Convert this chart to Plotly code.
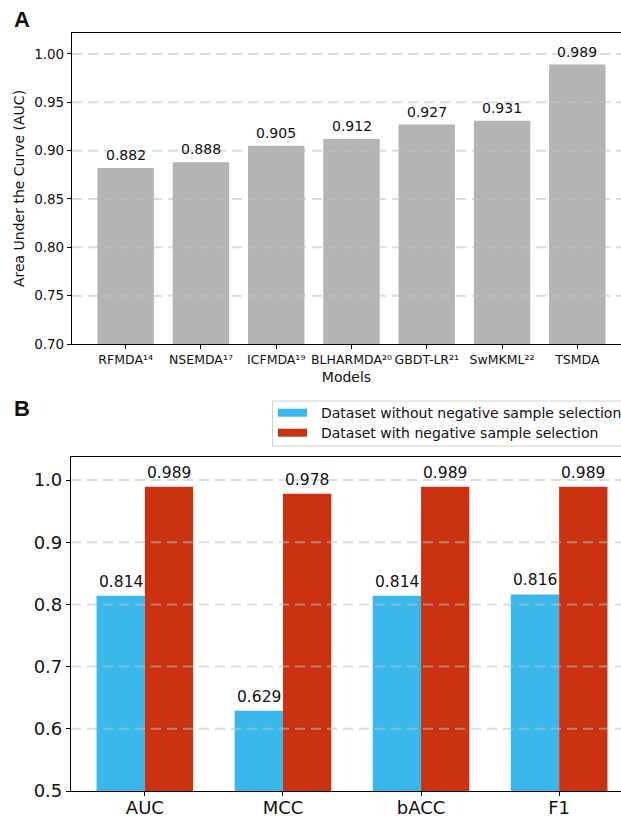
import plotly.graph_objects as go

# ---- data ----
models = ["RFMDA¹⁴", "NSEMDA¹⁷", "ICFMDA¹⁹", "BLHARMDA²⁰", "GBDT-LR²¹", "SwMKML²²", "TSMDA"]
auc_values = [0.882, 0.888, 0.905, 0.912, 0.927, 0.931, 0.989]
a_yticks = [0.70, 0.75, 0.80, 0.85, 0.90, 0.95, 1.00]

metrics = ["AUC", "MCC", "bACC", "F1"]
without_selection = [0.814, 0.629, 0.814, 0.816]
with_selection = [0.989, 0.978, 0.989, 0.989]
series_names = ["Dataset without negative sample selection", "Dataset with negative sample selection"]
b_yticks = [0.5, 0.6, 0.7, 0.8, 0.9, 1.0]

# ---- style ----
W, H = 621, 817
FONT = "DejaVu Sans"
GREY = "#b4b4b4"
BLUE = "#3ab8ec"
RED = "#cb3211"
GRID = "rgba(178,196,200,0.55)"

A_BAR_W = 0.75
B_BAR_W = 0.35


def px_x(p):
    return p / W


def px_y(p):
    return 1 - p / H


def mpl_range(n, span, full_px, shown_px):
    # matplotlib-style 5% margins around the bars; the right part is cut off
    lo = -span / 2 - 0.05 * (n - 1 + span)
    hi = (n - 1) + span / 2 + 0.05 * (n - 1 + span)
    return [lo, lo + (hi - lo) * shown_px / full_px]


fig = go.Figure()

# panel A
fig.add_trace(go.Bar(
    x=list(range(len(models))), y=auc_values, width=A_BAR_W,
    marker=dict(color=GREY, line=dict(width=0)),
    xaxis="x", yaxis="y", showlegend=False,
))

# panel B
xs = list(range(len(metrics)))
series_colors = [BLUE, RED]
for k, (vals, off) in enumerate([(without_selection, -B_BAR_W), (with_selection, 0)]):
    fig.add_trace(go.Bar(
        x=xs, y=vals, width=B_BAR_W, offset=off,
        marker=dict(color=series_colors[k], line=dict(width=0)), name=series_names[k],
        xaxis="x2", yaxis="y2", showlegend=False,
    ))

annotations = []
for i, v in enumerate(auc_values):
    annotations.append(dict(x=i, y=v, xref="x", yref="y", text=f"{v:.3f}", showarrow=False,
                            yanchor="bottom", yshift=3, font=dict(family=FONT, size=14, color="#111")))
for i, v in enumerate(without_selection):
    annotations.append(dict(x=i - B_BAR_W / 2, y=v, xref="x2", yref="y2", text=f"{v:.3f}", showarrow=False,
                            yanchor="bottom", yshift=3, font=dict(family=FONT, size=15.5, color="#111")))
for i, v in enumerate(with_selection):
    annotations.append(dict(x=i + B_BAR_W / 2, y=v, xref="x2", yref="y2", text=f"{v:.3f}", showarrow=False,
                            yanchor="bottom", yshift=3, font=dict(family=FONT, size=15.5, color="#111")))

# panel letters
annotations.append(dict(x=px_x(12), y=px_y(20), xref="paper", yref="paper", text="<b>A</b>", showarrow=False,
                        xanchor="left", yanchor="middle", font=dict(family="Liberation Sans", size=22, color="#111")))
annotations.append(dict(x=px_x(12), y=px_y(408), xref="paper", yref="paper", text="<b>B</b>", showarrow=False,
                        xanchor="left", yanchor="middle", font=dict(family="Liberation Sans", size=22, color="#111")))

shapes = []

# legend box for panel B (runs off the right edge)
shapes.append(dict(type="rect", xref="paper", yref="paper", x0=px_x(272.5), x1=px_x(640),
                   y0=px_y(446), y1=px_y(401), layer="above",
                   line=dict(color="#d0d0d0", width=1), fillcolor="white"))
row_centers = [412.7, 432.7]
for k, name in enumerate(series_names):
    yc = row_centers[k]
    shapes.append(dict(type="rect", xref="paper", yref="paper", x0=px_x(278), x1=px_x(307),
                       y0=px_y(yc + 4), y1=px_y(yc - 4), layer="above",
                       line=dict(width=0), fillcolor=series_colors[k]))
    annotations.append(dict(x=px_x(319), y=px_y(yc), xref="paper", yref="paper", text=name,
                            showarrow=False, xanchor="left", yanchor="middle",
                            font=dict(family=FONT, size=14, color="#111")))

# dashed horizontal grid drawn over the bars
for t in a_yticks[1:]:
    shapes.append(dict(type="line", xref="x domain", yref="y", x0=0, x1=1, y0=t, y1=t, layer="above",
                       line=dict(color=GRID, width=2, dash="10px,6px")))
for t in b_yticks[1:]:
    shapes.append(dict(type="line", xref="x2 domain", yref="y2", x0=0, x1=1, y0=t, y1=t, layer="above",
                       line=dict(color=GRID, width=2, dash="10px,6px")))

axis_common = dict(showline=True, linecolor="black", linewidth=1.2, ticks="outside", ticklen=4,
                   tickwidth=1, tickcolor="black", showgrid=False, zeroline=False, automargin=False)

fig.update_layout(
    width=W, height=H,
    margin=dict(l=0, r=0, t=0, b=0),
    paper_bgcolor="white", plot_bgcolor="white",
    font=dict(family=FONT, color="#111"),
    barmode="overlay",
    showlegend=False,
    xaxis=dict(
        domain=[px_x(72), 1], range=mpl_range(len(models), A_BAR_W, 559, 549),
        tickvals=list(range(len(models))), ticktext=models, mirror=True, tickangle=0,
        tickfont=dict(family=FONT, size=12.5),
        title=dict(text="Models", font=dict(family=FONT, size=14), standoff=6),
        anchor="y", **axis_common,
    ),
    yaxis=dict(
        domain=[px_y(344), px_y(33)], range=[0.70, 1.0217],
        tickvals=a_yticks, tickformat=".2f", tickfont=dict(family=FONT, size=13.5),
        title=dict(text="Area Under the Curve (AUC)", font=dict(family=FONT, size=14), standoff=6),
        anchor="x", **axis_common,
    ),
    xaxis2=dict(
        domain=[px_x(71), 1], range=mpl_range(len(metrics), 2 * B_BAR_W, 562, 550),
        tickvals=xs, ticktext=metrics, mirror=True, tickangle=0,
        tickfont=dict(family=FONT, size=18), ticklabelstandoff=-4,
        anchor="y2", **axis_common,
    ),
    yaxis2=dict(
        domain=[px_y(791), px_y(457)], range=[0.5, 1.037],
        tickvals=b_yticks, tickformat=".1f", tickfont=dict(family=FONT, size=18),
        anchor="x2", **axis_common,
    ),
    annotations=annotations,
    shapes=shapes,
)

fig.write_html("out.html")
